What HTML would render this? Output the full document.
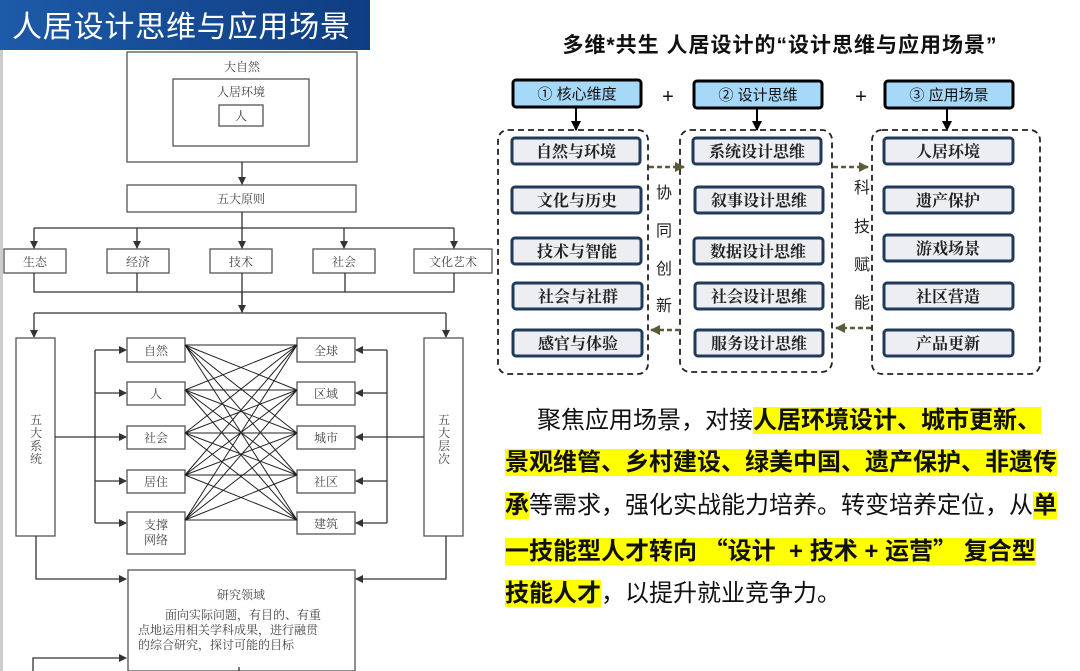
<!DOCTYPE html>
<html><head><meta charset="utf-8"><style>
body{margin:0;width:1080px;height:671px;overflow:hidden;background:#fff;position:relative;font-family:"Liberation Serif","Noto Serif CJK SC",serif}
.p{position:absolute;left:0;font-family:"Liberation Sans","Noto Sans CJK SC",sans-serif;font-size:24px;line-height:32px;color:#111;white-space:nowrap}
.h{background:#ffff00;font-weight:bold}
.q{font-family:"Noto Sans CJK SC",sans-serif}
</style></head><body>
<svg width="1080" height="671" style="position:absolute;left:0;top:0" font-family="Liberation Serif, Noto Serif CJK SC, serif">
<defs>
<linearGradient id="g" x1="0" x2="1"><stop offset="0" stop-color="#1d5aa8"/><stop offset="1" stop-color="#0f3d82"/></linearGradient>
<marker id="a" markerWidth="8" markerHeight="8" refX="7" refY="4" orient="auto" markerUnits="userSpaceOnUse"><path d="M0,0 L8,4 L0,8 z" fill="#333"/></marker>
<marker id="b" markerWidth="10" markerHeight="10" refX="9" refY="5" orient="auto" markerUnits="userSpaceOnUse"><path d="M0,0 L10,5 L0,10 z" fill="#000"/></marker>
<marker id="o" markerWidth="10" markerHeight="10" refX="9" refY="5" orient="auto" markerUnits="userSpaceOnUse"><path d="M0,0 L10,5 L0,10 z" fill="#5b5a3a"/></marker>
</defs>
<rect x="0" y="50" width="3" height="621" fill="#ccc"/>
<rect x="0" y="0" width="370" height="50" fill="url(#g)"/>
<text x="12" y="37" font-family="Liberation Sans, Noto Sans CJK SC, sans-serif" font-size="30" letter-spacing="0.8" fill="#fff">人居设计思维与应用场景</text>
<g stroke="#555" stroke-width="1.3" fill="none">
<rect x="127" y="52" width="230" height="110"/>
<rect x="173" y="79" width="136" height="67"/>
<rect x="219" y="105" width="44" height="21"/>
<rect x="127" y="185" width="229" height="27"/>
<rect x="4" y="249" width="62" height="24"/><rect x="107" y="249" width="62" height="24"/><rect x="210" y="249" width="62" height="24"/><rect x="313" y="249" width="62" height="24"/><rect x="414" y="249" width="78" height="24"/>
<rect x="16" y="338" width="39" height="198"/><rect x="424" y="338" width="39" height="198"/>
<rect x="127" y="338" width="58" height="24"/><rect x="127" y="382" width="58" height="23"/><rect x="127" y="426" width="58" height="23"/><rect x="127" y="470" width="58" height="23"/><rect x="127" y="512" width="58" height="42"/>
<rect x="297" y="338" width="58" height="24"/><rect x="297" y="382" width="58" height="23"/><rect x="297" y="426" width="58" height="23"/><rect x="297" y="470" width="58" height="23"/><rect x="297" y="512" width="58" height="22"/>
<rect x="128" y="570" width="227" height="101"/>
</g>
<g stroke="#333" stroke-width="1.3" fill="none">
<line x1="242" y1="162" x2="242" y2="184" marker-end="url(#a)"/>
<line x1="242" y1="212" x2="242" y2="248" marker-end="url(#a)"/>
<line x1="34" y1="228" x2="454" y2="228"/>
<line x1="34" y1="228" x2="34" y2="248" marker-end="url(#a)"/><line x1="137" y1="228" x2="137" y2="248" marker-end="url(#a)"/><line x1="344" y1="228" x2="344" y2="248" marker-end="url(#a)"/><line x1="454" y1="228" x2="454" y2="248" marker-end="url(#a)"/>
<path d="M34 273V292H454V273M137 273V292M242 273V312M345 273V292"/>
<line x1="242" y1="292" x2="242" y2="312" marker-end="url(#a)"/>
<line x1="34" y1="313" x2="446" y2="313"/>
<line x1="34" y1="313" x2="34" y2="337" marker-end="url(#a)"/><line x1="446" y1="313" x2="446" y2="337" marker-end="url(#a)"/>
<line x1="95" y1="350" x2="95" y2="523"/>
<line x1="55" y1="437" x2="126" y2="437" marker-end="url(#a)"/>
<line x1="95" y1="350" x2="126" y2="350" marker-end="url(#a)"/><line x1="95" y1="393" x2="126" y2="393" marker-end="url(#a)"/><line x1="95" y1="481" x2="126" y2="481" marker-end="url(#a)"/><line x1="95" y1="523" x2="126" y2="523" marker-end="url(#a)"/>
<line x1="387" y1="350" x2="387" y2="523"/>
<line x1="424" y1="437" x2="356" y2="437" marker-end="url(#a)"/>
<line x1="387" y1="350" x2="356" y2="350" marker-end="url(#a)"/><line x1="387" y1="393" x2="356" y2="393" marker-end="url(#a)"/><line x1="387" y1="481" x2="356" y2="481" marker-end="url(#a)"/><line x1="387" y1="523" x2="356" y2="523" marker-end="url(#a)"/>
<path d="M36 536V579H126" marker-end="url(#a)"/>
<path d="M446 536V579H356" marker-end="url(#a)"/>
<path d="M33 671V658H126" marker-end="url(#a)"/>
<line x1="239" y1="667" x2="239" y2="671"/>
</g>
<g stroke="#222" stroke-width="1">
<path d="M185 345L297 345M185 345L297 390M185 345L297 433M185 345L297 475M185 345L297 520
M185 390L297 345M185 390L297 390M185 390L297 433M185 390L297 475M185 390L297 520
M185 433L297 345M185 433L297 390M185 433L297 433M185 433L297 475M185 433L297 520
M185 475L297 345M185 475L297 390M185 475L297 433M185 475L297 475M185 475L297 520
M185 520L297 345M185 520L297 390M185 520L297 433M185 520L297 475M185 520L297 520"/>
</g>
<g font-size="12" fill="#444" text-anchor="middle">
<text x="242" y="71">大自然</text><text x="241" y="96">人居环境</text><text x="241" y="120">人</text>
<text x="241" y="203">五大原则</text>
<text x="35" y="266">生态</text><text x="138" y="266">经济</text><text x="241" y="266">技术</text><text x="344" y="266">社会</text><text x="453" y="266">文化艺术</text>
<text x="156" y="355">自然</text><text x="156" y="398">人</text><text x="156" y="442">社会</text><text x="156" y="486">居住</text><text x="156" y="529">支撑</text><text x="156" y="544">网络</text>
<text x="326" y="355">全球</text><text x="326" y="398">区域</text><text x="326" y="442">城市</text><text x="326" y="486">社区</text><text x="326" y="528">建筑</text>
<text x="36" y="424">五</text><text x="36" y="437">大</text><text x="36" y="450">系</text><text x="36" y="463">统</text>
<text x="444" y="424">五</text><text x="444" y="437">大</text><text x="444" y="450">层</text><text x="444" y="463">次</text>
<text x="241" y="599">研究领域</text>
</g>
<g font-size="12" fill="#444">
<text x="165" y="619">面向实际问题，有目的、有重</text>
<text x="138" y="634">点地运用相关学科成果，进行融贯</text>
<text x="138" y="649">的综合研究，探讨可能的目标</text>
</g>
<g font-family="Liberation Sans, Noto Sans CJK SC, sans-serif">
<text x="780" y="52" font-size="21" font-weight="bold" letter-spacing="1" text-anchor="middle" fill="#111">多维*共生 人居设计的“设计思维与应用场景”</text>
<g stroke="#000" stroke-width="3" fill="#a6d8f7">
<rect x="513" y="80" width="128" height="27" rx="3"/><rect x="694" y="81" width="128" height="27" rx="3"/><rect x="885" y="81" width="128" height="27" rx="3"/>
</g>
<g font-size="15" text-anchor="middle" fill="#111">
<text x="577" y="99">① 核心维度</text><text x="758" y="100">② 设计思维</text><text x="949" y="100">③ 应用场景</text>
<text x="668" y="103" font-size="20">+</text><text x="861" y="103" font-size="20">+</text>
</g>
<g stroke="#000" stroke-width="2">
<line x1="576" y1="108" x2="576" y2="130" marker-end="url(#b)"/><line x1="757" y1="109" x2="757" y2="130" marker-end="url(#b)"/><line x1="947" y1="109" x2="947" y2="130" marker-end="url(#b)"/>
</g>
<g stroke="#222" stroke-width="1.8" fill="none" stroke-dasharray="6,4">
<rect x="498" y="130" width="150" height="244" rx="10"/>
<rect x="680" y="130" width="152" height="242" rx="10"/>
<rect x="872" y="130" width="168" height="244" rx="10"/>
</g>
<g stroke="#1f3a5a" stroke-width="3" fill="#eceef1">
<rect x="512" y="138" width="128" height="26" rx="3"/><rect x="512" y="187" width="129" height="26" rx="3"/><rect x="512" y="238" width="129" height="26" rx="3"/><rect x="513" y="283" width="129" height="26" rx="3"/><rect x="513" y="330" width="129" height="26" rx="3"/>
<rect x="693" y="138" width="128" height="26" rx="3"/><rect x="695" y="187" width="128" height="26" rx="3"/><rect x="694" y="238" width="129" height="26" rx="3"/><rect x="695" y="283" width="128" height="26" rx="3"/><rect x="695" y="330" width="128" height="26" rx="3"/>
<rect x="884" y="138" width="129" height="26" rx="3"/><rect x="884" y="187" width="129" height="26" rx="3"/><rect x="884" y="235" width="129" height="26" rx="3"/><rect x="884" y="283" width="129" height="26" rx="3"/><rect x="884" y="330" width="129" height="26" rx="3"/>
</g>
<g font-family="Liberation Serif, Noto Serif CJK SC, serif" font-size="16" font-weight="bold" text-anchor="middle" fill="#222">
<text x="576" y="157">自然与环境</text><text x="577" y="206">文化与历史</text><text x="577" y="257">技术与智能</text><text x="578" y="302">社会与社群</text><text x="578" y="349">感官与体验</text>
<text x="757" y="157">系统设计思维</text><text x="759" y="206">叙事设计思维</text><text x="758" y="257">数据设计思维</text><text x="759" y="302">社会设计思维</text><text x="759" y="349">服务设计思维</text>
<text x="948" y="157">人居环境</text><text x="948" y="206">遗产保护</text><text x="948" y="254">游戏场景</text><text x="948" y="302">社区营造</text><text x="948" y="349">产品更新</text>
</g>
<g stroke="#5b5a3a" stroke-width="2.5" stroke-dasharray="5,3" fill="none">
<line x1="649" y1="167" x2="684" y2="167" marker-end="url(#o)"/>
<line x1="680" y1="330" x2="651" y2="330" marker-end="url(#o)"/>
<line x1="833" y1="167" x2="868" y2="167" marker-end="url(#o)"/>
<line x1="871" y1="328" x2="836" y2="328" marker-end="url(#o)"/>
</g>
<g font-size="16" text-anchor="middle" fill="#222">
<text x="664" y="198">协</text><text x="664" y="236">同</text><text x="664" y="274">创</text><text x="664" y="311">新</text>
<text x="862" y="193">科</text><text x="862" y="232">技</text><text x="862" y="270">赋</text><text x="862" y="308">能</text>
</g>
</g>
</svg>
<div class="p" style="top:405px;left:537px">聚焦应用场景，对接<span class="h">人居环境设计、城市更新、</span></div>
<div class="p" style="top:447px;left:505px"><span class="h">景观维管、乡村建设、绿美中国、遗产保护、非遗传</span></div>
<div class="p" style="top:490px;left:505px"><span class="h">承</span>等需求，强化实战能力培养。转变培养定位，从<span class="h">单</span></div>
<div class="p" style="top:533px;left:505px"><span class="h">一技能型人才转向 <span class="q">“</span>设计 &nbsp;+ 技术 + 运营<span class="q">”</span> 复合型</span></div>
<div class="p" style="top:578px;left:505px"><span class="h">技能人才</span>，以提升就业竞争力。</div>
</body></html>
